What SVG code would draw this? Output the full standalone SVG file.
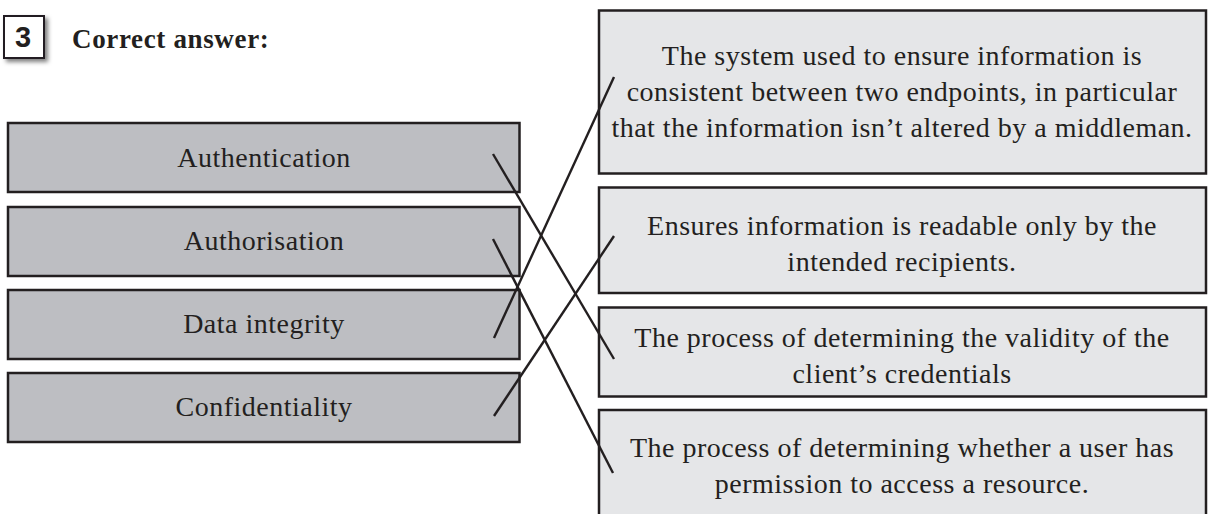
<svg xmlns="http://www.w3.org/2000/svg" width="1208" height="514" viewBox="0 0 1208 514">
  <style>
    .term { fill: #bdbec2; stroke: #231f20; stroke-width: 2.5; }
    .defn { fill: #e5e6e8; stroke: #231f20; stroke-width: 2.5; }
    .lbl { font-family: "Liberation Serif", "Times New Roman", serif; font-size: 28px; letter-spacing: 0.5px; fill: #231f20; text-anchor: middle; }
    .link { stroke: #231f20; stroke-width: 2.4; fill: none; stroke-linecap: butt; }
  </style>
  <defs>
    <filter id="badgeShadow" x="-30%" y="-30%" width="170%" height="170%">
      <feDropShadow dx="3" dy="3" stdDeviation="2" flood-color="#000" flood-opacity="0.5"/>
    </filter>
  </defs>
  <rect width="1208" height="514" fill="#ffffff"/>

  <!-- question number and heading -->
  <g id="heading">
    <rect x="4" y="16" width="40" height="42" fill="#ffffff" stroke="#231f20" stroke-width="2" filter="url(#badgeShadow)"/>
    <text x="23" y="47" font-family="'Liberation Sans', Arial, sans-serif" font-weight="bold" font-size="29" fill="#231f20" text-anchor="middle">3</text>
    <text x="72" y="48" font-family="'Liberation Serif', 'Times New Roman', serif" font-weight="bold" font-size="27" letter-spacing="0.65" fill="#231f20">Correct answer:</text>
  </g>

  <!-- terms -->
  <g id="term-authentication">
    <rect class="term" x="8" y="123" width="511.5" height="69"/>
    <text class="lbl" x="264" y="167">Authentication</text>
  </g>
  <g id="term-authorisation">
    <rect class="term" x="8" y="207" width="511.5" height="69"/>
    <text class="lbl" x="264" y="250">Authorisation</text>
  </g>
  <g id="term-integrity">
    <rect class="term" x="8" y="290" width="511.5" height="69"/>
    <text class="lbl" x="264" y="333">Data integrity</text>
  </g>
  <g id="term-confidentiality">
    <rect class="term" x="8" y="373" width="511.5" height="69"/>
    <text class="lbl" x="264" y="416">Confidentiality</text>
  </g>

  <!-- definitions -->
  <g id="def-integrity">
    <rect class="defn" x="599" y="10.5" width="607" height="163"/>
    <text class="lbl" x="902" y="65">The system used to ensure information is</text>
    <text class="lbl" x="902" y="101">consistent between two endpoints, in particular</text>
    <text class="lbl" x="902" y="137">that the information isn’t altered by a middleman.</text>
  </g>
  <g id="def-confidentiality">
    <rect class="defn" x="599" y="187.5" width="607" height="105.5"/>
    <text class="lbl" x="902" y="235">Ensures information is readable only by the</text>
    <text class="lbl" x="902" y="271">intended recipients.</text>
  </g>
  <g id="def-authentication">
    <rect class="defn" x="599" y="307.5" width="607" height="89"/>
    <text class="lbl" x="902" y="347">The process of determining the validity of the</text>
    <text class="lbl" x="902" y="383">client’s credentials</text>
  </g>
  <g id="def-authorisation">
    <rect class="defn" x="599" y="410" width="607" height="120"/>
    <text class="lbl" x="902" y="457">The process of determining whether a user has</text>
    <text class="lbl" x="902" y="493">permission to access a resource.</text>
  </g>

  <!-- matching lines -->
  <g id="connectors">
    <line class="link" x1="493" y1="154" x2="614" y2="359"/>
    <line class="link" x1="493" y1="239" x2="613" y2="473"/>
    <line class="link" x1="494" y1="338" x2="614" y2="77"/>
    <line class="link" x1="494" y1="416" x2="614" y2="236"/>
  </g>
</svg>
